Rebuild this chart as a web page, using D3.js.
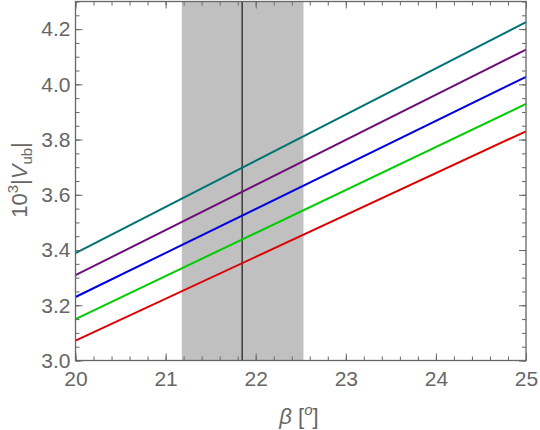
<!DOCTYPE html>
<html>
<head>
<meta charset="utf-8">
<script src="https://cdn.jsdelivr.net/npm/d3@7"></script>
<style>
  body { margin: 0; background: #fff; }
  text { font-family: "Liberation Sans", Arial, sans-serif; fill: #666; }
</style>
</head>
<body>
<div id="chart"></div>
<script>
var WIDTH = 540;
var HEIGHT = 430;
var MARGIN = {top: 1.5, right: 14, bottom: 69.5, left: 75.5};

// beta values (degrees) at the ends of the lines
var betaValues = [20, 25];
// 10^3 |Vub| for each curve
var seriesTeal = [3.389, 4.225];
var seriesPurple = [3.309, 4.126];
var seriesBlue = [3.230, 4.027];
var seriesGreen = [3.150, 3.929];
var seriesRed = [3.072, 3.830];
var seriesNames = ["teal", "purple", "blue", "green", "red"];
var seriesColors = ["#007373", "#6e0f78", "#0000e0", "#00cc00", "#dd0000"];

// shaded beta band and central value
var bandRange = [21.18, 22.53];
var betaCentral = 21.85;

var xTicks = [20, 21, 22, 23, 24, 25];
var yTicks = [3.0, 3.2, 3.4, 3.6, 3.8, 4.0, 4.2];

var allSeries = [seriesTeal, seriesPurple, seriesBlue, seriesGreen, seriesRed];

function init() {
    var svg = d3.select("#chart").append("svg")
        .attr("width", WIDTH)
        .attr("height", HEIGHT);

    var x = d3.scaleLinear().domain([20, 25]).range([MARGIN.left, WIDTH - MARGIN.right]);
    var y = d3.scaleLinear().domain([3.0, 4.3]).range([HEIGHT - MARGIN.bottom, MARGIN.top]);

    // band
    svg.append("rect")
        .attr("x", x(bandRange[0]))
        .attr("y", y(4.3))
        .attr("width", x(bandRange[1]) - x(bandRange[0]))
        .attr("height", y(3.0) - y(4.3))
        .attr("fill", "#c0c0c0");

    svg.append("line")
        .attr("x1", x(betaCentral)).attr("x2", x(betaCentral))
        .attr("y1", y(4.3)).attr("y2", y(3.0))
        .attr("stroke", "#3a3a3a")
        .attr("stroke-width", 1.5);

    // curves
    var line = d3.line()
        .x((d, i) => x(betaValues[i]))
        .y(d => y(d));

    svg.append("g").selectAll("path")
        .data(allSeries)
        .enter().append("path")
        .attr("class", (d, i) => seriesNames[i])
        .attr("d", line)
        .attr("fill", "none")
        .attr("stroke", (d, i) => seriesColors[i])
        .attr("stroke-width", 2);

    // frame axes, ticks pointing inward
    var xMinor = d3.range(20, 25.001, 0.2);
    var yMinor = d3.range(3.0, 4.3001, 0.05);

    function styleAxis(g) {
        g.select(".domain").remove();
        g.selectAll(".tick line").attr("stroke", "#666").attr("stroke-width", 1);
        g.selectAll(".tick text").attr("font-size", 21).style("fill", "#666");
    }

    var bottom = HEIGHT - MARGIN.bottom;
    var top = MARGIN.top;
    var left = MARGIN.left;
    var right = WIDTH - MARGIN.right;

    // minor ticks
    svg.append("g").attr("transform", `translate(0,${bottom})`)
        .call(d3.axisBottom(x).tickValues(xMinor).tickSize(-4).tickFormat(""))
        .call(styleAxis);
    svg.append("g").attr("transform", `translate(0,${top})`)
        .call(d3.axisTop(x).tickValues(xMinor).tickSize(-4).tickFormat(""))
        .call(styleAxis);
    svg.append("g").attr("transform", `translate(${left},0)`)
        .call(d3.axisLeft(y).tickValues(yMinor).tickSize(-4).tickFormat(""))
        .call(styleAxis);
    svg.append("g").attr("transform", `translate(${right},0)`)
        .call(d3.axisRight(y).tickValues(yMinor).tickSize(-4).tickFormat(""))
        .call(styleAxis);

    // major ticks
    svg.append("g").attr("transform", `translate(0,${bottom})`)
        .call(d3.axisBottom(x).tickValues(xTicks).tickSize(-7).tickPadding(11).tickFormat(d3.format("d")))
        .call(styleAxis);
    svg.append("g").attr("transform", `translate(0,${top})`)
        .call(d3.axisTop(x).tickValues(xTicks).tickSize(-7).tickFormat(""))
        .call(styleAxis);
    svg.append("g").attr("transform", `translate(${left},0)`)
        .call(d3.axisLeft(y).tickValues(yTicks).tickSize(-7).tickPadding(5).tickFormat(d3.format(".1f")))
        .call(styleAxis);
    svg.append("g").attr("transform", `translate(${right},0)`)
        .call(d3.axisRight(y).tickValues(yTicks).tickSize(-7).tickFormat(""))
        .call(styleAxis);

    svg.append("rect")
        .attr("x", left).attr("y", top)
        .attr("width", right - left).attr("height", bottom - top)
        .attr("fill", "none")
        .attr("stroke", "#666")
        .attr("stroke-width", 1.3);

    // x label
    var xl = svg.append("text")
        .attr("x", 299)
        .attr("y", 424)
        .attr("text-anchor", "middle")
        .attr("font-size", 22);
    xl.append("tspan").attr("font-style", "italic").text("β");
    xl.append("tspan").text(" [");
    xl.append("tspan").attr("font-style", "italic").attr("font-size", 15).attr("dy", -9).text("o");
    xl.append("tspan").attr("dy", 9).text("]");

    // y label
    var yl = svg.append("text")
        .attr("transform", "translate(27,180) rotate(-90)")
        .attr("text-anchor", "middle")
        .attr("font-size", 22);
    yl.append("tspan").text("10");
    yl.append("tspan").attr("font-size", 15).attr("dy", -9).text("3");
    yl.append("tspan").attr("dy", 9).text("|");
    yl.append("tspan").attr("font-style", "italic").text("V");
    yl.append("tspan").attr("font-size", 15).attr("dy", 5).text("ub");
    yl.append("tspan").attr("dy", -5).text("|");
}

init();
</script>
</body>
</html>
